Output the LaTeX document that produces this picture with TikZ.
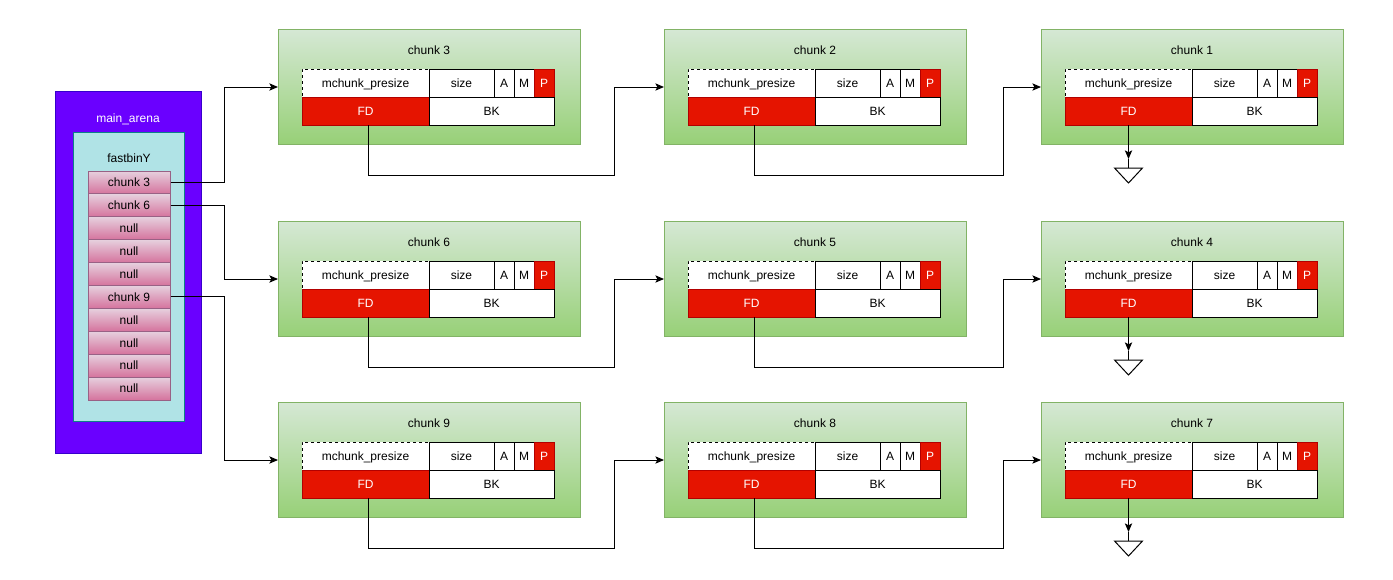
\documentclass[tikz,border=0pt]{standalone}
\usepackage{fontspec}
\setmainfont{Liberation Sans}
\usetikzlibrary{arrows.meta}
\usetikzlibrary{positioning,calc}
\definecolor{arenafill}{HTML}{6A00FF}
\definecolor{arenaline}{HTML}{3700CC}
\definecolor{binfill}{HTML}{B0E3E6}
\definecolor{binline}{HTML}{0E8088}
\definecolor{celltop}{HTML}{E6D0DE}
\definecolor{cellbot}{HTML}{D5739D}
\definecolor{cellline}{HTML}{996185}
\definecolor{greentop}{HTML}{D5E8D4}
\definecolor{greenbot}{HTML}{97D077}
\definecolor{greenline}{HTML}{82B366}
\definecolor{fieldred}{HTML}{E51400}
\definecolor{fieldredline}{HTML}{B20000}

\begin{document}
\begin{tikzpicture}[x=0.75pt, y=-0.75pt, font=\fontsize{9}{11}\selectfont]
\tikzset{
arena/.style = {draw=arenaline, fill=arenafill, line width=0.75pt, anchor=north west, inner sep=0pt, minimum width=146*0.75pt, minimum height=362*0.75pt},
bins/.style = {draw=binline, fill=binfill, line width=0.75pt, anchor=north west, inner sep=0pt, minimum width=111*0.75pt, minimum height=289*0.75pt},
cell/.style = {draw=cellline, top color=celltop, bottom color=cellbot, line width=0.75pt, inner sep=0pt, minimum width=82*0.75pt, minimum height=22.9*0.75pt},
chunkbox/.style = {draw=greenline, top color=greentop, bottom color=greenbot, line width=0.75pt, anchor=north west, inner sep=0pt, minimum width=302*0.75pt, minimum height=115*0.75pt},
field/.style = {draw, fill=white, line width=0.75pt, inner sep=0pt, outer sep=0pt, minimum height=28*0.75pt, text height=1.6ex, text depth=0.25ex},
redfield/.style = {field, draw=fieldredline, fill=fieldred, text=white},
line/.style = {draw, line width=0.75pt, -{Stealth[length=6.5pt, width=5.5pt, inset=1.5pt]}}
}
\useasboundingbox (0,0) rectangle (1393,579);

% main arena with the fastbin array
\node [arena] (arena) at (55,91) {};
\node [text=white] (arenatitle) at (128,119) {main\_arena};
\node [bins] (fastbin) at (73,132) {};
\node (bintitle) at (129,158) {fastbinY};
\foreach \t [count=\i] in {chunk 3, chunk 6, null, null, null, chunk 9, null, null, null, null}
  \node [cell] (bin\i) at (129,{182.45+(\i-1)*22.9}) {\t};

% the chunks
\foreach \col/\row/\n in {278/29/3, 664/29/2, 1041/29/1, 278/221/6, 664/221/5, 1041/221/4, 278/402/9, 664/402/8, 1041/402/7} {
  \node [chunkbox] (c\n) at (\col,\row) {};
  \node (t\n) at (\col+151,\row+21) {chunk \n};
  \node [field, dashed, dash pattern=on 2.25pt off 2.25pt, anchor=north west, minimum width=127*0.75pt] (pre\n) at (\col+24,\row+40) {mchunk\_presize};
  \node [field, right=0pt of pre\n, minimum width=65*0.75pt] (size\n) {size};
  \node [field, right=0pt of size\n, minimum width=20*0.75pt] (a\n) {A};
  \node [field, right=0pt of a\n, minimum width=20*0.75pt] (m\n) {M};
  \node [redfield, right=0pt of m\n, minimum width=20*0.75pt] (p\n) {P};
  \node [redfield, below=0pt of pre\n, minimum width=127*0.75pt] (fd\n) {FD};
  \node [field, right=0pt of fd\n, minimum width=125*0.75pt] (bk\n) {BK};
}

% fastbin heads
\path [line] (bin1.east) -- ++(54,0) |- (c3.west);
\path [line] (bin2.east) -- ++(54,0) |- (c6.west);
\path [line] (bin6.east) -- ++(54,0) |- (c9.west);

% fd links
\foreach \a/\b/\d in {3/2/50, 2/1/38, 6/5/50, 5/4/38, 9/8/50, 8/7/38}
  \path [line] ([xshift=2.25pt]fd\a.south) -- ++(0,50) -| ([xshift=-\d*0.75pt]c\b.west) -- (c\b.west);

% end of list
\foreach \n in {1,4,7} {
  \coordinate (g\n) at ($(fd\n.south)+(0,34)$);
  \path [line] (fd\n.south) -- (g\n);
  \draw [line width=0.75pt] (g\n) -- ++(0,9) coordinate (gt\n);
  \draw [line width=0.75pt, line join=miter] (gt\n) ++(-14,0) -- ++(28,0) -- ++(-14,15) -- cycle;
}
\end{tikzpicture}
\end{document}
